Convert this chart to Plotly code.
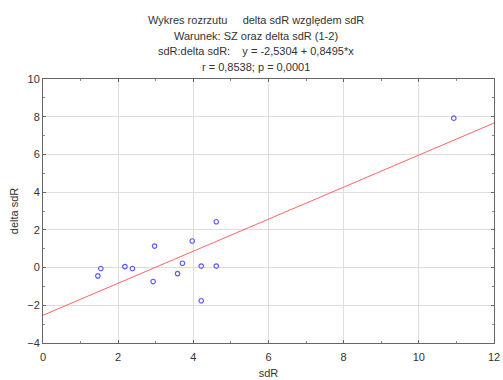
import plotly.graph_objects as go

# Observations: sdR vs delta sdR
sdr = [1.46, 1.54, 2.18, 2.38, 2.93, 2.97, 3.58, 3.71, 3.97, 4.21, 4.21, 4.61, 4.61, 10.93]
delta_sdr = [-0.44, -0.05, 0.05, -0.05, -0.74, 1.14, -0.32, 0.23, 1.41, 0.08, -1.76, 2.43, 0.08, 7.92]

# Fitted regression line y = a + b*x
intercept = -2.5304
slope = 0.8495
fit_x = [0, 12]
fit_y = [intercept + slope * v for v in fit_x]

title_lines = [
    "Wykres rozrzutu&nbsp;&nbsp;&nbsp;&nbsp; delta sdR względem sdR",
    "Warunek: SZ oraz delta sdR (1-2)",
    "sdR:delta sdR:&nbsp;&nbsp;&nbsp; y = -2,5304 + 0,8495*x",
    "r = 0,8538; p = 0,0001",
]

fig = go.Figure()
fig.add_trace(go.Scatter(
    x=fit_x, y=fit_y, mode="lines",
    line=dict(color="#ff6464", width=1), hoverinfo="skip",
))
fig.add_trace(go.Scatter(
    x=sdr, y=delta_sdr, mode="markers",
    marker=dict(symbol="circle-open", size=4.5, color="#5a5aff", line=dict(width=1.2)),
))

font = dict(family="Arial, Liberation Sans, sans-serif", size=11, color="#333333")
L, R, T, B = 43, 9, 79, 37
H = 380
plot_h = H - T - B

for i, txt in enumerate(title_lines):
    py = 20 + i * 15.7
    fig.add_annotation(
        text=txt, xref="paper", yref="paper", x=0.473, y=1 + (T - py) / plot_h,
        xanchor="center", yanchor="middle", showarrow=False, font=font,
    )

axis_common = dict(
    showline=True, linecolor="#666666", linewidth=1, mirror="ticks",
    ticks="inside", ticklen=3, tickcolor="#666666",
    showgrid=True, gridcolor="#dedede", gridwidth=1, zeroline=False,
    tickfont=font, automargin=False,
    minor=dict(ticks="inside", ticklen=2, tickcolor="#888888", showgrid=False),
)

fig.update_xaxes(range=[0, 12], dtick=2, minor_dtick=1, ticklabelstandoff=4,
                 title=dict(text="sdR", font=font, standoff=7), **axis_common)
fig.update_yaxes(range=[-4, 10], dtick=2, minor_dtick=1,
                 title=dict(text="delta sdR", font=font, standoff=6), **axis_common)

fig.update_layout(
    width=503, height=380,
    margin=dict(l=L, r=R, t=T, b=B),
    plot_bgcolor="white", paper_bgcolor="white",
    showlegend=False,
)

fig.write_html("out.html")
